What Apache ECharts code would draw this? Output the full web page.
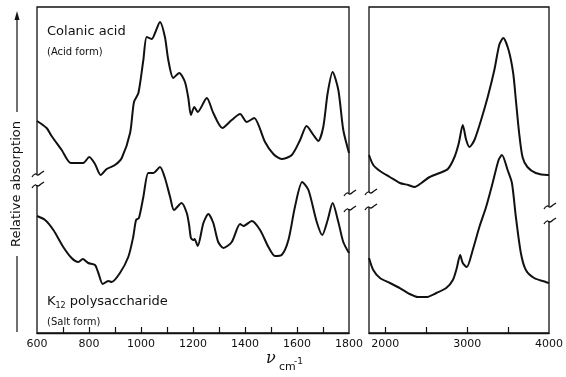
<!DOCTYPE html>
<html>
<head>
<meta charset="utf-8">
<script src="https://cdn.jsdelivr.net/npm/echarts@6/dist/echarts.min.js"></script>
<style>
  html, body { margin: 0; padding: 0; background: #fff; }
  #chart { width: 566px; height: 377px; }
</style>
</head>
<body>
<div id="chart"></div>
<script>
// wavenumber (cm-1), relative absorption (arbitrary units)
const colanicFinger = [
  [600, 212], [637, 205], [656, 197], [695, 183], [730, 170], [753, 170], [778, 170],
  [801, 176], [823, 169], [845, 158], [868, 164], [900, 168], [926, 175], [958, 200],
  [973, 231], [990, 240], [1009, 273], [1022, 296], [1041, 294], [1054, 300], [1073, 311],
  [1092, 296], [1105, 273], [1124, 255], [1147, 260], [1169, 251], [1182, 235], [1192, 218],
  [1205, 226], [1218, 221], [1253, 235], [1278, 220], [1313, 205], [1349, 213], [1381, 219],
  [1407, 211], [1435, 215], [1477, 191], [1509, 179], [1541, 174], [1580, 178], [1612, 193],
  [1637, 207], [1663, 198], [1682, 192], [1701, 206], [1718, 240], [1737, 261], [1759, 243],
  [1778, 203], [1800, 180]
];
const k12Finger = [
  [600, 117], [631, 113], [663, 103], [701, 86], [733, 75], [759, 71], [776, 74],
  [797, 70], [823, 68], [836, 60], [853, 49], [874, 52], [887, 51], [919, 60],
  [951, 76], [970, 96], [981, 113], [992, 115], [1009, 136], [1028, 160], [1047, 160],
  [1073, 166], [1092, 155], [1112, 136], [1127, 123], [1156, 130], [1176, 120], [1185, 108],
  [1192, 95], [1201, 93], [1206, 94], [1218, 87], [1240, 110], [1259, 119], [1278, 110],
  [1297, 91], [1317, 85], [1349, 91], [1381, 109], [1394, 107], [1426, 112], [1458, 103],
  [1490, 86], [1515, 77], [1541, 78], [1567, 93], [1592, 126], [1620, 151], [1644, 143],
  [1676, 111], [1697, 98], [1718, 113], [1737, 130], [1759, 111], [1778, 91], [1800, 80]
];
const colanicHigh = [
  [1800, 178], [1852, 168], [1934, 162], [2055, 156], [2177, 150], [2278, 148], [2359, 146],
  [2440, 150], [2541, 156], [2663, 160], [2764, 164], [2845, 176], [2898, 190], [2946, 208],
  [2988, 193], [3028, 186], [3089, 193], [3170, 213], [3251, 236], [3332, 263], [3392, 288],
  [3441, 295], [3506, 283], [3562, 260], [3595, 233], [3635, 200], [3676, 176], [3736, 166],
  [3838, 160], [3980, 158], [4000, 158]
];
const k12High = [
  [1800, 75], [1852, 63], [1934, 55], [2055, 50], [2177, 45], [2298, 39], [2399, 36],
  [2501, 36], [2623, 40], [2744, 45], [2825, 53], [2873, 65], [2914, 78], [2946, 70],
  [2995, 66], [3068, 83], [3149, 106], [3231, 126], [3311, 150], [3384, 173], [3425, 178],
  [3494, 163], [3547, 150], [3595, 116], [3656, 80], [3717, 63], [3818, 55], [3960, 51],
  [4000, 50]
];

const lowTicks = [700, 800, 900, 1000, 1100, 1200, 1300, 1400, 1500, 1600, 1700];
const lowLabels = [600, 800, 1000, 1200, 1400, 1600, 1800];
const highTicks = [2000, 2500, 3000, 3500];
const highLabels = [2000, 3000, 4000];

const FONT = 'DejaVu Sans';
const chart = echarts.init(document.getElementById('chart'), null, { renderer: 'canvas' });

const frame = { show: true, borderColor: '#111', borderWidth: 1.3, backgroundColor: 'transparent' };

const xBase = (min, max, ticks, labels) => ({
  type: 'value',
  min, max,
  axisLine: { show: true, lineStyle: { color: '#111', width: 1.3 } },
  axisTick: { show: true, inside: true, length: 6, customValues: ticks, lineStyle: { color: '#111', width: 1.2 } },
  axisLabel: {
    show: true, customValues: labels, color: '#111', fontFamily: FONT, fontSize: 11, margin: 6,
    formatter: (v) => String(v),
  },
  splitLine: { show: false },
});

const yBase = (gridIndex) => ({
  type: 'value', gridIndex, min: 0, max: 326,
  axisLine: { show: false }, axisTick: { show: false }, axisLabel: { show: false }, splitLine: { show: false },
});

const lineSeries = (data, idx) => ({
  type: 'line', xAxisIndex: idx, yAxisIndex: idx,
  data, smooth: 0.25, symbol: 'none',
  lineStyle: { color: '#111', width: 2 },
});

// break marks on the frame
function squiggle(cx, cy) {
  return {
    type: 'polyline', z: 101,
    shape: { points: [[cx - 6, cy + 3], [cx - 3, cy], [cx, cy + 1], [cx + 3, cy - 1], [cx + 6, cy - 3]], smooth: 0.5 },
    style: { stroke: '#111', lineWidth: 1.3, fill: null },
  };
}
function axisBreak(ax, cx, y1, y2) {
  return [
    { type: 'rect', z: 100, shape: { x: ax - 2, y: y1, width: 4, height: y2 - y1 }, style: { fill: '#fff' } },
    squiggle(cx, y1), squiggle(cx, y2),
  ];
}

const txt = (x, y, text, size, extra) => ({
  type: 'text', z: 100, x, y,
  style: Object.assign({ text, fill: '#111', font: `${size}px "${FONT}"`, textVerticalAlign: 'middle' }, extra || {}),
});

chart.setOption({
  animation: false,
  backgroundColor: '#fff',
  grid: [
    Object.assign({ left: 37, top: 7, width: 312, height: 326 }, frame),
    Object.assign({ left: 369, top: 7, width: 181, height: 326 }, frame),
  ],
  xAxis: [
    xBase(600, 1800, lowTicks, lowLabels),
    Object.assign(xBase(1800, 4000, highTicks, highLabels), { gridIndex: 1 }),
  ],
  yAxis: [yBase(0), yBase(1)],
  series: [
    lineSeries(colanicFinger, 0),
    lineSeries(k12Finger, 0),
    lineSeries(colanicHigh, 1),
    lineSeries(k12High, 1),
  ],
  graphic: [
    ...axisBreak(37, 38, 174, 185),
    ...axisBreak(349, 350, 193, 209),
    ...axisBreak(369, 371, 192, 207),
    ...axisBreak(550, 550, 206, 221),
    // y axis title with arrow
    { type: 'line', z: 100, shape: { x1: 17, y1: 332, x2: 17, y2: 256 }, style: { stroke: '#111', lineWidth: 1.2 } },
    { type: 'line', z: 100, shape: { x1: 17, y1: 112, x2: 17, y2: 18 }, style: { stroke: '#111', lineWidth: 1.2 } },
    { type: 'polygon', z: 100, shape: { points: [[17, 11], [14.5, 20], [19.5, 20]] }, style: { fill: '#111' } },
    {
      type: 'text', z: 100, x: 17, y: 184, rotation: Math.PI / 2,
      style: { text: 'Relative absorption', fill: '#111', font: `13px "${FONT}"`, textAlign: 'center', textVerticalAlign: 'middle' },
    },
    // x axis title
    txt(266, 359, 'ν', 16, { font: `italic 16px "DejaVu Serif"` }),
    txt(279, 367, 'cm', 11),
    txt(294, 362, '-1', 9),
    // spectrum labels
    txt(47, 32, 'Colanic acid', 13),
    txt(47, 52, '(Acid form)', 10),
    {
      type: 'text', z: 100, x: 47, y: 302,
      style: {
        text: '{a|K}{s|12}{a| polysaccharide}',
        textVerticalAlign: 'middle',
        rich: {
          a: { fill: '#111', fontFamily: FONT, fontSize: 13 },
          s: { fill: '#111', fontFamily: FONT, fontSize: 8, padding: [8, 0, 0, 0] },
        },
      },
    },
    txt(47, 322, '(Salt form)', 10),
  ],
});
</script>
</body>
</html>
